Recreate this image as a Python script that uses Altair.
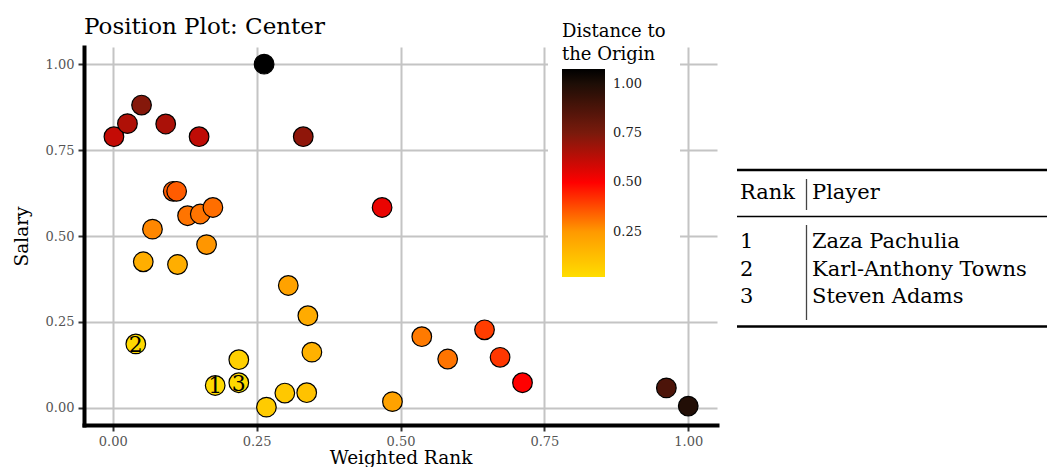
import altair as alt
import pandas as pd

# ---- data ----
weighted_rank = [0.002, 0.0255, 0.050, 0.092, 0.150, 0.331, 0.263,
                 0.105, 0.111, 0.130, 0.152, 0.174, 0.069, 0.163,
                 0.053, 0.1125, 0.305, 0.339, 0.346, 0.337, 0.299,
                 0.267, 0.219, 0.219, 0.178, 0.040, 0.468, 0.486,
                 0.537, 0.582, 0.646, 0.673, 0.712, 0.962, 1.000]
salary = [0.789, 0.827, 0.881, 0.826, 0.789, 0.789, 1.000,
          0.630, 0.630, 0.559, 0.564, 0.583, 0.520, 0.475,
          0.425, 0.417, 0.356, 0.268, 0.162, 0.044, 0.043,
          0.002, 0.140, 0.073, 0.065, 0.186, 0.583, 0.018,
          0.207, 0.142, 0.227, 0.147, 0.073, 0.058, 0.005]
distance = [0.61, 0.65, 0.73, 0.66, 0.62, 0.71, 1.076,
            0.35, 0.35, 0.31, 0.31, 0.32, 0.28, 0.255,
            0.18, 0.18, 0.22, 0.19, 0.17, 0.11, 0.09,
            0.08, 0.065, 0.035, 0.035, 0.035, 0.54, 0.22,
            0.30, 0.31, 0.40, 0.41, 0.50, 0.875, 0.99]
rank_label = [""] * 23 + ["3", "1", "2"] + [""] * 9

table_rank = ["1", "2", "3"]
table_player = ["Zaza Pachulia", "Karl-Anthony Towns", "Steven Adams"]
table_header = ["Rank", "Player"]

tick_values = [0, 0.25, 0.5, 0.75, 1.0]
legend_values = [0.25, 0.5, 0.75, 1.0]

color_domain = [0.02, 0.25, 0.5, 0.75, 1.0, 1.076]
color_range = ["#FFDD00", "#FF9900", "#FF0000", "#7A1A0C", "#1E0E06", "#000000"]

FONT = "DejaVu Serif"

df = pd.DataFrame({"wr": weighted_rank, "sal": salary, "dist": distance, "lab": rank_label})

# table in long form
rows = [{"row": 0, "col": c, "txt": c} for c in table_header]
for i, (r, p) in enumerate(zip(table_rank, table_player)):
    rows.append({"row": i + 1, "col": "Rank", "txt": r})
    rows.append({"row": i + 1, "col": "Player", "txt": p})
tdf = pd.DataFrame(rows)

xs = alt.Scale(domain=[-0.05, 1.05], nice=False, zero=False)
ys = alt.Scale(domain=[-0.05, 1.05], nice=False, zero=False)

axis_common = dict(
    values=tick_values, format=".2f", grid=True, gridColor="#C4C4C4", gridWidth=2,
    domainColor="black", domainWidth=4, domainCap="square",
    tickColor="#333333", tickWidth=2, tickSize=6,
    labelFont=FONT, labelFontSize=13, labelColor="#555555", labelPadding=4,
    labelFlush=False,
    titleFont=FONT, titleFontSize=18.5, titleColor="black", titleFontWeight="normal",
)
x_axis = alt.Axis(title="Weighted Rank", titlePadding=0, **axis_common)
y_axis = alt.Axis(title="Salary", titlePadding=14, **axis_common)

points = alt.Chart(df).mark_circle(size=385, stroke="black", strokeWidth=1.2, opacity=1).encode(
    x=alt.X("wr:Q", scale=xs, axis=x_axis),
    y=alt.Y("sal:Q", scale=ys, axis=y_axis),
    color=alt.Color(
        "dist:Q",
        scale=alt.Scale(domain=color_domain, range=color_range, interpolate="rgb"),
        legend=alt.Legend(
            orient="none", legendX=464, legendY=-38, direction="vertical",
            title=["Distance to", "the Origin"], titleFont=FONT, titleFontSize=18,
            titleFontWeight="normal", titleColor="black", titleAnchor="start",
            titleAlign="left", titleLineHeight=23, titlePadding=5,
            gradientLength=208, gradientThickness=43, gradientStrokeWidth=0,
            labelFont=FONT, labelFontSize=13, labelColor="#222222", labelOffset=8,
            values=legend_values, format=".2f", padding=14, fillColor="white",
            labelOverlap=False,
        ),
    ),
)

labels = alt.Chart(df).transform_filter("datum.lab != ''").mark_text(
    font=FONT, fontSize=22, color="black", baseline="middle", align="center", dy=1
).encode(
    x=alt.X("wr:Q", scale=xs, axis=x_axis),
    y=alt.Y("sal:Q", scale=ys, axis=y_axis),
    text="lab:N",
)

scatter = alt.layer(points, labels)

table_text = alt.Chart(tdf).mark_text(
    font=FONT, fontSize=21, color="black", align="left", baseline="alphabetic"
).encode(
    x=alt.X("col:N", scale=alt.Scale(domain=table_header, range=[656, 728], padding=0), axis=None),
    y=alt.Y("row:Q", scale=alt.Scale(domain=[0, 1, 2, 3], range=[152, 201, 229, 256]), axis=None),
    text="txt:N",
)

one = pd.DataFrame({"k": [0]})
top_rule = alt.Chart(one).mark_rule(color="black", strokeWidth=2.5).encode(
    x=alt.value(653), x2=alt.value(980), y=alt.value(123))
mid_rule = alt.Chart(one).mark_rule(color="black", strokeWidth=1.3).encode(
    x=alt.value(653), x2=alt.value(980), y=alt.value(169.5))
bot_rule = alt.Chart(one).mark_rule(color="black", strokeWidth=2.5).encode(
    x=alt.value(653), x2=alt.value(980), y=alt.value(279.5))
vhead = alt.Chart(one).mark_rule(color="#444444", strokeWidth=1.3).encode(
    x=alt.value(722.5), y=alt.value(132), y2=alt.value(163))
vbody = alt.Chart(one).mark_rule(color="#444444", strokeWidth=1.3).encode(
    x=alt.value(722.5), y=alt.value(178), y2=alt.value(273))

chart = alt.layer(
    scatter, table_text, top_rule, mid_rule, bot_rule, vhead, vbody
).resolve_scale(x="independent", y="independent").properties(
    width=633, height=378,
    autosize=alt.AutoSizeParams(type="none"),
    padding={"left": 76, "top": 39, "right": 330, "bottom": 42},
    title=alt.Title("Position Plot: Center", font=FONT, fontSize=23, fontWeight="normal",
                    color="black", anchor="start", frame="group", offset=0,
                    baseline="alphabetic", dy=48),
).configure_view(stroke=None)

chart.save("out.html", embed_options={"renderer": "svg", "actions": False})
